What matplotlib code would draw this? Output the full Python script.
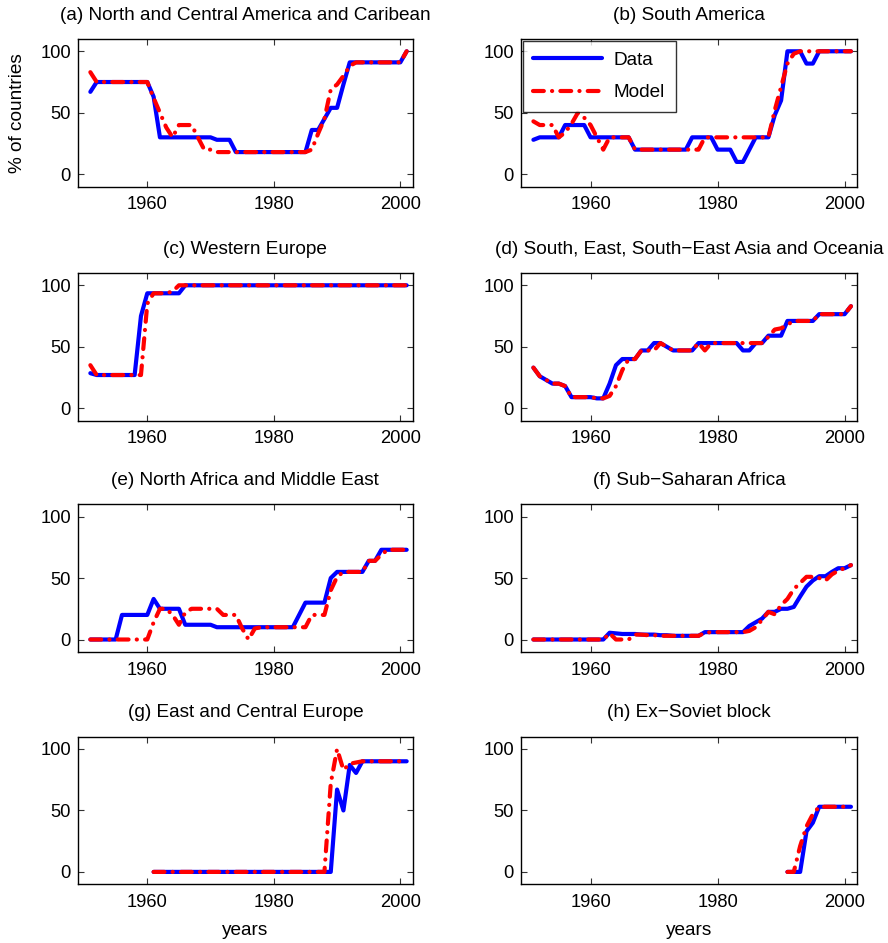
import matplotlib
matplotlib.use("Agg")
import matplotlib.pyplot as plt
import numpy as np

plt.rcParams['font.family'] = ['Liberation Sans', 'DejaVu Sans']
plt.rcParams['lines.scale_dashes'] = False

years_full = list(range(1951, 2002))
years_g = list(range(1961, 2002))
years_h = list(range(1991, 2002))

titles = [
    "(a) North and Central America and Caribean",
    "(b) South America",
    "(c) Western Europe",
    "(d) South, East, South\u2212East Asia and Oceania",
    "(e) North Africa and Middle East",
    "(f) Sub\u2212Saharan Africa",
    "(g) East and Central Europe",
    "(h) Ex\u2212Soviet block",
]

# (a) North and Central America and Caribean
data_a = ([67] + [75]*9 + [63] + [30]*9 + [28]*3 + [18]*12 +
          [36, 36, 45, 54, 54, 73] + [91]*9 + [100])
model_a = ([83] + [75]*9 + [62, 50, 38, 30, 40, 40, 40, 30, 20, 20] + [18]*15 +
           [20, 33, 45, 69, 73, 80, 88] + [91]*8 + [100])

# (b) South America
data_b = ([28] + [30]*4 + [40]*4 + [30]*7 + [20]*9 + [30]*4 + [20]*3 + [10]*2 +
          [20] + [30]*3 + [48, 60] + [100]*3 + [90]*2 + [100]*6)
model_b = ([43, 40, 40, 40, 30, 34, 41, 50, 46, 40, 30, 20, 30, 30, 30, 30] +
           [20]*11 + [30]*11 + [52, 71, 90, 98] + [100]*9)

# (c) Western Europe
data_c = [28.5] + [27]*7 + [75] + [93.5]*6 + [100]*36
model_c = [35] + [27]*8 + [85] + [93.5]*3 + [95] + [100]*37

# (d) South, East, South-East Asia and Oceania
data_d = ([33, 26, 23, 20, 20, 18, 9, 9, 9, 9, 8, 8, 20, 35, 40, 40, 40, 47, 47,
           53, 53, 50, 47, 47, 47, 47, 53] + [53]*6 +
          [47, 47, 53, 53, 59, 59, 59, 71] + [71]*4 + [76.5]*5 + [83])
model_d = ([33, 26, 23, 20, 20, 18, 9, 9, 9, 9, 8, 8, 10, 18, 31, 40, 40, 47, 47,
            47, 53, 50, 47, 47, 47, 47, 53, 47] + [53]*9 +
           [58, 64, 65, 68] + [71]*4 + [76.5]*5 + [83])

# (e) North Africa and Middle East
data_e = ([0]*5 + [20]*5 + [33] + [25]*4 + [12]*5 + [10]*13 + [20] + [30]*4 +
          [50] + [55]*5 + [64]*2 + [73]*5)
model_e = ([0]*10 + [14, 25, 25, 20, 12, 22] + [25]*5 + [20]*3 + [9, 0, 9] +
           [10]*8 + [20]*3 + [40, 51] + [55]*4 + [64]*2 + [69] + [73]*4)

# (f) Sub-Saharan Africa
data_f = ([0]*12 + [5.5, 5, 4.5, 4.5, 4.5, 4, 4, 4, 3.5, 3.5] + [3]*5 + [6]*7 +
          [11, 14, 17, 22.5, 22.5, 25, 25, 26.5, 35, 43, 48, 51.5, 51.5, 55, 58, 58, 60.5])
model_f = ([0]*12 + [5, 0, 0, 0, 4, 4, 3.5, 3.5, 3] + [3]*6 + [5.5] + [6]*6 +
           [7, 10, 16, 22.5, 20.5, 28, 33, 41, 46, 51, 51, 50, 48, 53, 56, 58, 60.5])

# (g) East and Central Europe (1961-2001)
data_g = [0]*29 + [67, 50, 87, 80.5] + [90]*8
model_g = [0]*28 + [72, 100, 83, 88, 89] + [90]*8

# (h) Ex-Soviet block (1991-2001)
data_h = [0, 0, 0, 33, 40] + [53]*6
model_h = [0, 0, 21, 37, 47] + [53]*6

series = [
    (years_full, data_a, model_a),
    (years_full, data_b, model_b),
    (years_full, data_c, model_c),
    (years_full, data_d, model_d),
    (years_full, data_e, model_e),
    (years_full, data_f, model_f),
    (years_g, data_g, model_g),
    (years_h, data_h, model_h),
]

W, H = 888, 943
fig = plt.figure(figsize=(W/100, H/100), dpi=100)

col_left = [77.7, 520.7]
col_width = [335.3, 336.6]
row_top = [39.0, 273.0, 504.3, 736.7]
row_h = 147.5

FS = 13.2
FS_T = 13.7
for i, (yrs, d, m) in enumerate(series):
    r, c = divmod(i, 2)
    left = col_left[c] / W
    bottom = 1 - (row_top[r] + row_h) / H
    ax = fig.add_axes([left, bottom, col_width[c] / W, row_h / H])
    ax.plot(yrs, d, color=(0, 0, 1), lw=3.0, solid_capstyle='round',
            solid_joinstyle='round', label='Data')
    ax.plot(yrs, m, color=(1, 0, 0), lw=3.0, dashes=[7.8, 5.9, 0.1, 5.9],
            dash_capstyle='round', dash_joinstyle='round', label='Model')
    ax.set_xlim(1949, 2002)
    ax.set_ylim(-10, 110)
    ax.set_xticks([1960, 1980, 2000])
    ax.set_yticks([0, 50, 100])
    ax.tick_params(direction='in', top=True, right=True, length=4, width=0.8,
                   labelsize=FS, color='#333333')
    ax.tick_params(axis='x', pad=7)
    ax.tick_params(axis='y', pad=5)
    for s in ax.spines.values():
        s.set_linewidth(1.0)
    ax.set_title(titles[i], fontsize=FS_T, pad=14)
    if i == 0:
        ax.set_ylabel('% of countries', fontsize=FS_T, labelpad=10)
    if r == 3:
        ax.set_xlabel('years', fontsize=FS_T, labelpad=8)
    if i == 1:
        leg = ax.legend(loc='upper left', fontsize=FS_T, frameon=True, fancybox=False,
                        edgecolor='black', borderaxespad=0.1, handlelength=3.6,
                        handletextpad=0.65, labelspacing=0.8, borderpad=0.55)
        leg.get_frame().set_linewidth(1.0)

fig.savefig('out.png', dpi=100)
